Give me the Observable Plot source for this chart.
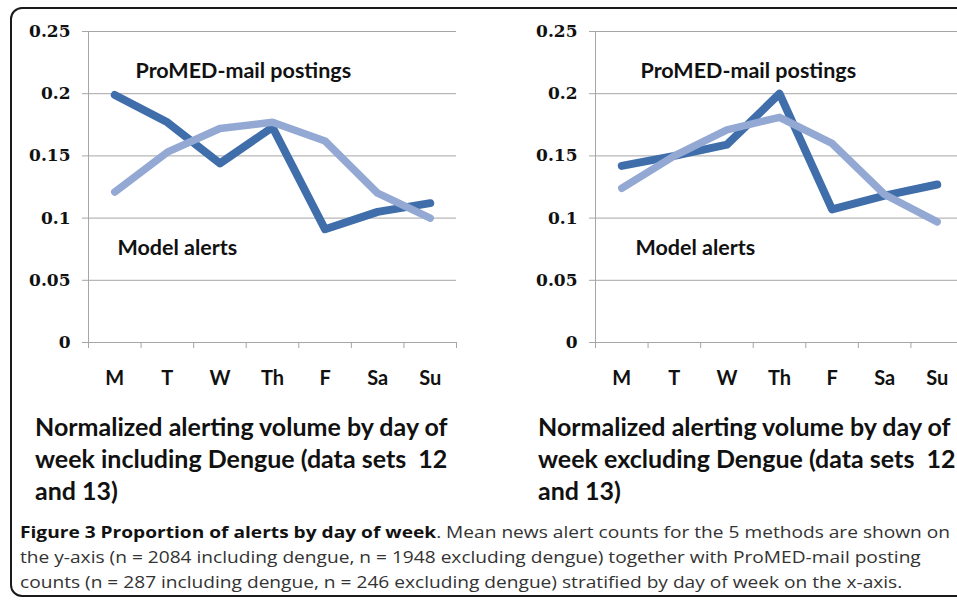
<!DOCTYPE html>
<html>
<head>
<meta charset="utf-8">
<script src="https://cdn.jsdelivr.net/npm/d3@7"></script>
<script src="https://cdn.jsdelivr.net/npm/@observablehq/plot@0.6"></script>
<style>
  html, body { margin: 0; padding: 0; background: #fff; }
  body { width: 957px; height: 604px; overflow: hidden; position: relative; }
  #frame { position: absolute; left: 10px; top: 7px; width: 990px; height: 586px;
           border: 2px solid #1a1a1a; border-radius: 12px; }
  .chart { position: absolute; top: 0; width: 480px; height: 400px; }
  .chart svg { max-width: none !important; width: 480px; height: 400px; }
  .sub { position: absolute; font-family: Lato, sans-serif; font-weight: 700; font-size: 25px;
         line-height: 32px; color: #111; white-space: nowrap; top: 410px; }
  #caption { position: absolute; left: 20px; top: 519px; font-family: "Open Sans", sans-serif;
             font-size: 16.5px; line-height: 25px; color: #333; white-space: nowrap;
             transform-origin: 0 0; }
  #caption b { color: #111; }
</style>
</head>
<body>
<div id="frame"></div>
<div id="c1" class="chart" style="left:0px"></div>
<div id="c2" class="chart" style="left:507px"></div>
<div class="sub" style="left:35px">Normalized alerting volume by day of<br>week including Dengue (data sets&nbsp; 12<br>and 13)</div>
<div class="sub" style="left:538px">Normalized alerting volume by day of<br>week excluding Dengue (data sets&nbsp; 12<br>and 13)</div>
<div id="caption"><span id="cap1"><b>Figure 3 Proportion of alerts by day of week</b>. Mean news alert counts for the 5 methods are shown on</span><br>the y-axis (n = 2084 including dengue, n = 1948 excluding dengue) together with ProMED-mail posting<br>counts (n = 287 including dengue, n = 246 excluding dengue) stratified by day of week on the x-axis.</div>
<script>
const days = ["M", "T", "W", "Th", "F", "Sa", "Su"];
// Including dengue
const incProMED = [0.199, 0.177, 0.144, 0.173, 0.091, 0.105, 0.112];
const incModel  = [0.121, 0.153, 0.172, 0.177, 0.162, 0.120, 0.100];
// Excluding dengue
const excProMED = [0.142, 0.150, 0.159, 0.200, 0.107, 0.118, 0.127];
const excModel  = [0.124, 0.150, 0.171, 0.181, 0.160, 0.119, 0.097];
const yTicks = [0, 0.05, 0.1, 0.15, 0.2, 0.25];
const yTickLabels = ["0", "0.05", "0.1", "0.15", "0.2", "0.25"];
const labelProMED = "ProMED-mail postings";
const labelModel = "Model alerts";

const darkBlue = "#3f6eab";
const lightBlue = "#93a9d4";
const gridGrey = "#a6a6a6";

function chart(dark, light, proDx, modelDx) {
  const centers = days.map((d, i) => i + 0.5);
  const bounds = d3.range(days.length + 1);
  return Plot.plot({
    width: 480, height: 400,
    marginLeft: 88, marginRight: 24, marginTop: 31, marginBottom: 58,
    style: { fontFamily: "Lato, sans-serif", background: "transparent", overflow: "visible" },
    x: { type: "linear", domain: [0, days.length] },
    y: { domain: [0, 0.25] },
    marks: [
      Plot.gridY(yTicks, { stroke: gridGrey, strokeOpacity: 1, strokeWidth: 1 }),
      Plot.axisY(yTicks, {
        tickSize: 6, tickPadding: 12, stroke: gridGrey,
        tickFormat: d => yTickLabels[yTicks.indexOf(d)],
        fontFamily: "DejaVu Serif, serif", fontWeight: "bold", fontSize: 17, fill: "#111"
      }),
      Plot.ruleX([0], { stroke: gridGrey }),
      Plot.ruleY([0], { stroke: gridGrey }),
      Plot.axisX(bounds, { tickSize: 6, tickFormat: () => "", stroke: gridGrey }),
      Plot.axisX(centers, {
        tickSize: 0, tickPadding: 28,
        tickFormat: v => days[Math.round(v - 0.5)],
        fontFamily: "Lato, sans-serif", fontWeight: "bold", fontSize: 20, fill: "#111"
      }),
      Plot.line(dark, { x: (d, i) => i + 0.5, y: d => d, stroke: darkBlue, strokeWidth: 8,
                        strokeLinecap: "round", strokeLinejoin: "round" }),
      Plot.line(light, { x: (d, i) => i + 0.5, y: d => d, stroke: lightBlue, strokeWidth: 7.5,
                         strokeLinecap: "round", strokeLinejoin: "round" }),
      Plot.text([labelProMED], { frameAnchor: "top-left", textAnchor: "start", lineAnchor: "middle",
                                 dx: proDx, dy: 40, fontSize: 21.5, fontWeight: "bold", fill: "#111" }),
      Plot.text([labelModel], { frameAnchor: "top-left", textAnchor: "start", lineAnchor: "middle",
                                dx: modelDx, dy: 217, fontSize: 21.5, fontWeight: "bold", fill: "#111" })
    ]
  });
}

document.getElementById("c1").append(chart(incProMED, incModel, 47, 29));
document.getElementById("c2").append(chart(excProMED, excModel, 45, 40));

// stretch the figure caption horizontally so its first line spans the box width, as in the source
const cap = document.getElementById("caption");
const w1 = document.getElementById("cap1").getBoundingClientRect().width;
cap.style.transform = `scaleX(${930 / w1})`;
</script>
</body>
</html>
